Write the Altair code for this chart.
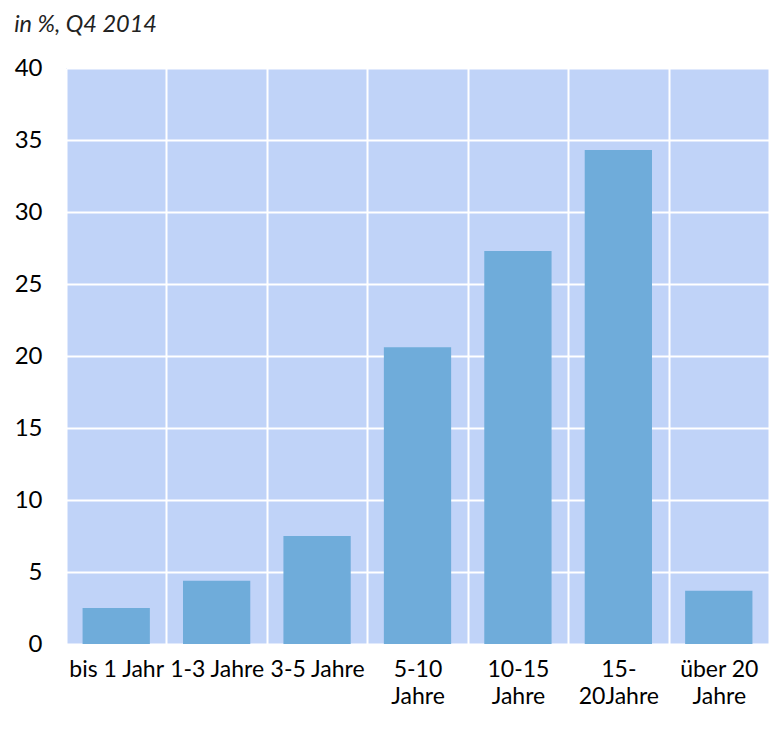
import altair as alt
import pandas as pd

categories = ["bis 1 Jahr", "1-3 Jahre", "3-5 Jahre", "5-10\nJahre",
              "10-15\nJahre", "15-\n20Jahre", "über 20\nJahre"]
values = [2.5, 4.4, 7.5, 20.6, 27.3, 34.3, 3.7]
y_ticks = [0, 5, 10, 15, 20, 25, 30, 35, 40]

df = pd.DataFrame({"cat": categories, "val": values})

FONT = "Lato"

chart = alt.Chart(df).mark_bar(color="#6FACDA",
                               width=alt.RelativeBandSize(0.67)).encode(
    x=alt.X("cat:N", sort=categories,
            scale=alt.Scale(paddingInner=0, paddingOuter=0),
            axis=alt.Axis(title=None, labelAngle=0, ticks=False, domain=False,
                          grid=True, tickBand="extent", gridColor="white",
                          gridWidth=2, gridOpacity=1,
                          labelExpr="split(datum.label, '\\n')",
                          labelFont=FONT, labelFontSize=23, labelColor="#000",
                          labelLineHeight=27, labelPadding=14,
                          labelOverlap=False, labelBaseline="top")),
    y=alt.Y("val:Q", scale=alt.Scale(domain=[0, 40], nice=False),
            axis=alt.Axis(title=None, values=y_ticks, ticks=False, domain=False,
                          grid=True, gridColor="white", gridWidth=2, gridOpacity=1,
                          labelFont=FONT, labelFontSize=24, labelColor="#000",
                          labelPadding=24)),
).properties(
    width=703, height=576,
    padding={"left": 6, "right": 0, "top": 4, "bottom": 0},
    title=alt.TitleParams("in %, Q4 2014", anchor="start", frame="bounds",
                          font=FONT, fontSize=23.5, fontStyle="italic",
                          fontWeight="normal", color="#222", offset=20),
).configure_view(fill="#C0D3F8", stroke=None)

chart.save("out.html", embed_options={"renderer": "svg", "actions": False})
